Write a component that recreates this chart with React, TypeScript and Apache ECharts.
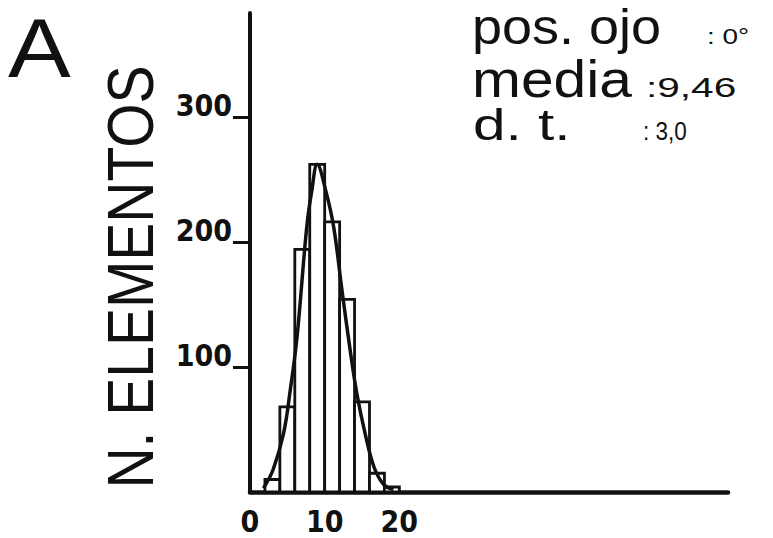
import React, { useEffect, useRef } from "react";
import * as echarts from "echarts";

// Histogram bins (class limits) and counts
const binStarts = [2, 4, 6, 8, 10, 12, 14, 16, 18];
const binEnds = [4, 6, 8, 10, 12, 14, 16, 18, 20];
const binCounts = [10, 68, 194, 262, 216, 154, 72, 15, 4];

// Fitted curve drawn over the histogram
const curveX = [1.8, 3.1, 4.5, 5.4, 6.3, 7.6, 8.3, 9.0, 10.1, 11.2, 12.3, 13.4, 14.3, 15.4, 16.6, 17.9, 19.2];
const curveY = [3, 18, 47, 82, 124, 212, 242, 262, 242, 212, 162, 114, 79, 47, 20, 6, 2];

// Axis labels
const xTickLabels = [0, 10, 20];
const yTickLabels = [100, 200, 300];

const TEXT = "#111";
const SANS = "'Liberation Sans', Arial, sans-serif";
const COND = "'DejaVu Sans Condensed', 'DejaVu Sans', sans-serif";

export default function App() {
  const ref = useRef<HTMLDivElement>(null);

  useEffect(() => {
    if (!ref.current) return;
    const chart = echarts.init(ref.current, undefined, { renderer: "svg" });

    const bins = binStarts.map((s, i) => [s, binEnds[i], binCounts[i]]);
    const curve = curveX.map((x, i) => [x, curveY[i]]);

    // text center from its baseline for middle alignment
    const mid = (baseline: number, size: number) => baseline - 0.3465 * size;

    chart.setOption({
      animation: false,
      backgroundColor: "#fff",
      grid: { left: 250, top: 13, right: 45, bottom: 46 },
      xAxis: {
        type: "value",
        min: 0,
        max: 64,
        interval: 10,
        splitLine: { show: false },
        axisLine: { lineStyle: { color: TEXT, width: 4.5 } },
        axisTick: { show: true, inside: true, length: 6, customValues: [10], lineStyle: { color: TEXT, width: 2 } },
        axisLabel: {
          customValues: xTickLabels,
          margin: 14,
          color: TEXT,
          fontFamily: COND,
          fontWeight: "bold",
          fontSize: 30,
        },
      },
      yAxis: {
        type: "value",
        min: 0,
        max: 383,
        interval: 100,
        splitLine: { show: false },
        axisLine: { lineStyle: { color: TEXT, width: 4 } },
        axisTick: { show: true, length: 17, customValues: yTickLabels, lineStyle: { color: TEXT, width: 3 } },
        axisLabel: {
          customValues: yTickLabels,
          margin: 18,
          color: TEXT,
          fontFamily: COND,
          fontWeight: "bold",
          fontSize: 30,
          verticalAlign: "bottom",
          padding: [0, 0, -4, 0],
        },
      },
      series: [
        {
          type: "custom",
          z: 2,
          data: bins,
          renderItem: (params: any, api: any) => {
            const p0 = api.coord([api.value(0), api.value(2)]);
            const p1 = api.coord([api.value(1), 0]);
            return {
              type: "rect",
              shape: { x: p0[0], y: p0[1], width: p1[0] - p0[0], height: p1[1] - p0[1] },
              style: { fill: "#fff", stroke: TEXT, lineWidth: 2.8 },
            };
          },
        },
        {
          type: "line",
          z: 3,
          data: curve,
          smooth: 0.4,
          showSymbol: false,
          lineStyle: { color: TEXT, width: 3.5 },
        },
      ],
      graphic: [
        {
          type: "text",
          x: 8,
          y: 48,
          scaleX: 1.12,
          style: { text: "A", font: `84px ${SANS}`, fill: TEXT, align: "left", verticalAlign: "middle" },
        },
        {
          type: "text",
          x: 131,
          y: 277,
          rotation: Math.PI / 2,
          scaleX: 0.89,
          style: { text: "N. ELEMENTOS", font: `64px ${SANS}`, fill: TEXT, align: "center", verticalAlign: "middle" },
        },
        {
          type: "text",
          x: 472,
          y: mid(44, 50),
          scaleX: 1.08,
          style: { text: "pos. ojo", font: `50px ${SANS}`, fill: TEXT, align: "left", verticalAlign: "middle" },
        },
        {
          type: "text",
          x: 707,
          y: mid(44, 22),
          scaleX: 1.27,
          style: { text: ": 0°", font: `22px ${SANS}`, fill: TEXT, align: "left", verticalAlign: "middle" },
        },
        {
          type: "text",
          x: 472,
          y: mid(97, 52),
          scaleX: 1.13,
          style: { text: "media", font: `52px ${SANS}`, fill: TEXT, align: "left", verticalAlign: "middle" },
        },
        {
          type: "text",
          x: 646,
          y: mid(97, 28),
          scaleX: 1.45,
          style: { text: ":9,46", font: `28px ${SANS}`, fill: TEXT, align: "left", verticalAlign: "middle" },
        },
        {
          type: "text",
          x: 473,
          y: mid(140, 45),
          scaleX: 1.3,
          style: { text: "d. t.", font: `45px ${SANS}`, fill: TEXT, align: "left", verticalAlign: "middle" },
        },
        {
          type: "text",
          x: 643,
          y: mid(140, 25),
          scaleX: 0.9,
          style: { text: ": 3,0", font: `25px ${SANS}`, fill: TEXT, align: "left", verticalAlign: "middle" },
        },
      ],
    });

    return () => chart.dispose();
  }, []);

  return (
    <div
      ref={ref}
      style={{ position: "fixed", left: 0, top: 0, width: 773, height: 538, background: "#fff" }}
    />
  );
}
